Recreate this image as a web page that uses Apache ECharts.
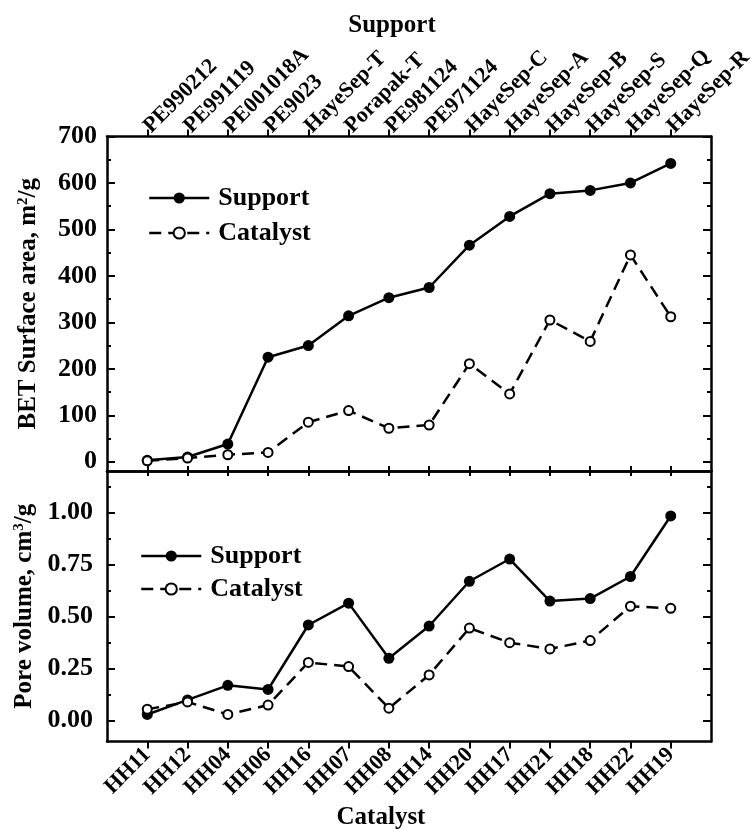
<!DOCTYPE html>
<html>
<head>
<meta charset="utf-8">
<script src="https://cdn.jsdelivr.net/npm/echarts@6/dist/echarts.min.js"></script>
<style>
  html, body { margin: 0; padding: 0; background: #fff; }
  #chart { width: 751px; height: 830px; }
</style>
</head>
<body>
<div id="chart"></div>
<script>
// Catalyst samples (bottom axis) and the support each was made from (top axis)
const catalysts = ['HH11','HH12','HH04','HH06','HH16','HH07','HH08','HH14','HH20','HH17','HH21','HH18','HH22','HH19'];
const supports = ['PE990212','PE991119','PE001018A','PE9023','HayeSep-T','Porapak-T','PE981124','PE971124','HayeSep-C','HayeSep-A','HayeSep-B','HayeSep-S','HayeSep-Q','HayeSep-R'];

// BET surface area, m2/g
const areaSupport  = [3, 10, 38, 225, 250, 314, 353, 375, 466, 528, 577, 584, 600, 642];
const areaCatalyst = [2, 8, 15, 20, 85, 110, 72, 79, 211, 146, 305, 259, 445, 312];

// Pore volume, cm3/g
const volSupport  = [0.03, 0.10, 0.17, 0.15, 0.46, 0.565, 0.30, 0.455, 0.67, 0.777, 0.575, 0.587, 0.693, 0.984];
const volCatalyst = [0.055, 0.09, 0.03, 0.075, 0.28, 0.26, 0.06, 0.22, 0.445, 0.375, 0.345, 0.385, 0.55, 0.54];

// Axis ticks
const catTicks = [0,1,2,3,4,5,6,7,8,9,10,11,12,13];
const areaTicks = [0, 100, 200, 300, 400, 500, 600, 700];
const areaMinor = [50, 150, 250, 350, 450, 550, 650];
const volTicks = [0, 0.25, 0.5, 0.75, 1.0];
const volMinor = [0.125, 0.375, 0.625, 0.875, 1.125];

const FONT = '"Liberation Serif", "Times New Roman", serif';
const BLACK = '#000';

const pairs = vals => vals.map((v, i) => [i, v]);

const frameLine = { show: true, onZero: false, lineStyle: { color: BLACK, width: 2.5 } };
const hiddenLine = { show: false, onZero: false };
const noLabel = { show: false };
const labelFont = { fontFamily: FONT, fontWeight: 'bold', color: BLACK };

function xAxisDef(gridIndex, position, opts) {
  return Object.assign({
    type: 'value', gridIndex, position, min: -1, max: 14,
    axisLine: frameLine,
    splitLine: { show: false },
    axisLabel: noLabel,
    axisTick: { show: true, inside: true, length: 5, customValues: catTicks, lineStyle: { color: BLACK, width: 2 } }
  }, opts);
}

function yAxisDef(gridIndex, position, min, max, ticks, len, withLine, opts) {
  return Object.assign({
    type: 'value', gridIndex, position, min, max,
    axisLine: withLine ? frameLine : hiddenLine,
    splitLine: { show: false },
    axisLabel: noLabel,
    axisTick: { show: true, inside: true, length: len, customValues: ticks, lineStyle: { color: BLACK, width: 2 } }
  }, opts);
}

function legendDef(left, top, gap) {
  return {
    data: ['Support', 'Catalyst'], orient: 'vertical', left, top,
    itemWidth: 60, itemHeight: 14, itemGap: gap,
    lineStyle: { width: 2.5 },
    textStyle: Object.assign({ fontSize: 26, padding: [0, 0, 0, 4] }, labelFont),
    selectedMode: false
  };
}

function titleName(text, sup) {
  return {
    name: '{t|' + text + '}{s|' + sup + '}{t|/g}',
    nameLocation: 'middle', nameRotate: 90, nameGap: 66,
    nameTextStyle: { rich: {
      t: Object.assign({ fontSize: 25 }, labelFont),
      s: Object.assign({ fontSize: 15, verticalAlign: 'top', padding: [0, 0, 10, 0] }, labelFont)
    } }
  };
}

const option = {
  backgroundColor: '#fff',
  animation: false,
  grid: [
    { left: 107, right: 40, top: 136.5, height: 334.5, containLabel: false, outerBoundsMode: 'none' },
    { left: 107, right: 40, top: 471, height: 270.5, containLabel: false, outerBoundsMode: 'none' }
  ],
  legend: [
    legendDef(143, 180, 9),
    legendDef(135, 538, 7)
  ],
  xAxis: [
    xAxisDef(0, 'top', {
      name: 'Support', nameLocation: 'middle', nameGap: 98,
      nameTextStyle: Object.assign({ fontSize: 25, padding: [0, 34, 0, 0] }, labelFont),
      axisTick: { show: true, inside: false, length: 7, customValues: catTicks, lineStyle: { color: BLACK, width: 2 } },
      axisLabel: Object.assign({
        show: true, rotate: -45, fontSize: 22, margin: 7, customValues: catTicks,
        formatter: v => supports[Math.round(v)]
      }, labelFont)
    }),
    xAxisDef(0, 'bottom'),
    xAxisDef(1, 'top'),
    xAxisDef(1, 'bottom', {
      name: 'Catalyst', nameLocation: 'middle', nameGap: 64,
      nameTextStyle: Object.assign({ fontSize: 25, padding: [0, 56, 0, 0] }, labelFont),
      axisTick: { show: true, inside: false, length: 7, customValues: catTicks, lineStyle: { color: BLACK, width: 2 } },
      axisLabel: Object.assign({
        show: true, rotate: 45, fontSize: 22, margin: 10, customValues: catTicks,
        formatter: v => catalysts[Math.round(v)]
      }, labelFont)
    })
  ],
  yAxis: [
    yAxisDef(0, 'left', -20, 700, areaTicks, 8, true, Object.assign(titleName('BET Surface area, m', '2'), {
      axisLabel: Object.assign({ show: true, fontSize: 26, margin: 10, customValues: areaTicks }, labelFont)
    })),
    yAxisDef(0, 'left', -20, 700, areaMinor, 4, false),
    yAxisDef(0, 'right', -20, 700, areaTicks, 8, true),
    yAxisDef(0, 'right', -20, 700, areaMinor, 4, false),
    yAxisDef(1, 'left', -0.1, 1.2, volTicks, 8, true, Object.assign(titleName('Pore volume, cm', '3'), {
      axisLabel: Object.assign({
        show: true, fontSize: 26, margin: 14, customValues: volTicks,
        formatter: v => v.toFixed(2)
      }, labelFont)
    })),
    yAxisDef(1, 'left', -0.1, 1.2, volMinor, 4, false),
    yAxisDef(1, 'right', -0.1, 1.2, volTicks, 8, true),
    yAxisDef(1, 'right', -0.1, 1.2, volMinor, 4, false)
  ],
  series: [
    {
      name: 'Support', type: 'line', xAxisIndex: 0, yAxisIndex: 0,
      data: pairs(areaSupport),
      symbol: 'circle', symbolSize: 11,
      itemStyle: { color: BLACK },
      lineStyle: { color: BLACK, width: 2.5 }
    },
    {
      name: 'Catalyst', type: 'line', xAxisIndex: 0, yAxisIndex: 0,
      data: pairs(areaCatalyst),
      symbol: 'circle', symbolSize: 9,
      itemStyle: { color: '#fff', borderColor: BLACK, borderWidth: 2 },
      lineStyle: { color: BLACK, width: 2.5, type: [12, 7] }
    },
    {
      name: 'Support', type: 'line', xAxisIndex: 3, yAxisIndex: 4,
      data: pairs(volSupport),
      symbol: 'circle', symbolSize: 11,
      itemStyle: { color: BLACK },
      lineStyle: { color: BLACK, width: 2.5 }
    },
    {
      name: 'Catalyst', type: 'line', xAxisIndex: 3, yAxisIndex: 4,
      data: pairs(volCatalyst),
      symbol: 'circle', symbolSize: 9,
      itemStyle: { color: '#fff', borderColor: BLACK, borderWidth: 2 },
      lineStyle: { color: BLACK, width: 2.5, type: [12, 7] }
    }
  ]
};

const chart = echarts.init(document.getElementById('chart'), null, { renderer: 'canvas' });
chart.setOption(option);
</script>
</body>
</html>
